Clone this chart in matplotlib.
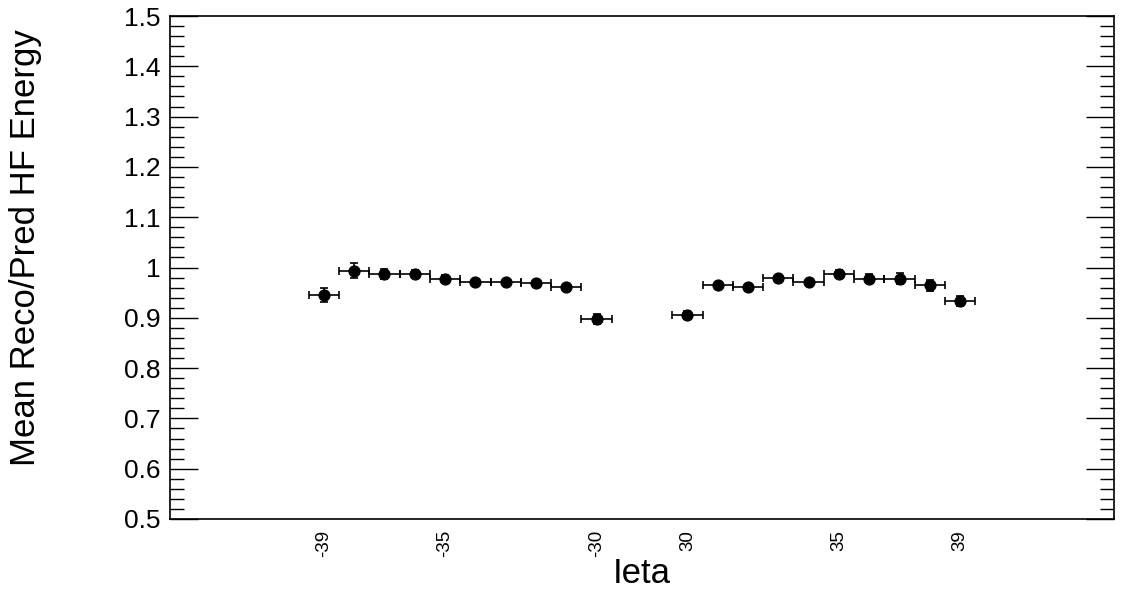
"""Mean reco/pred HF energy per ieta ring (ROOT-style profile plot)."""
import numpy as np
import matplotlib; matplotlib.use("Agg"); import matplotlib.pyplot as plt
from matplotlib.ticker import MultipleLocator

plt.rcParams['font.family'] = ['Liberation Sans', 'DejaVu Sans']

ieta = [-39, -38, -37, -36, -35, -34, -33, -32, -31, -30,
        30, 31, 32, 33, 34, 35, 36, 37, 38, 39]
ratio = [0.946, 0.994, 0.988, 0.987, 0.978, 0.972, 0.972, 0.970, 0.962, 0.897,
         0.906, 0.966, 0.962, 0.979, 0.972, 0.987, 0.978, 0.978, 0.965, 0.933]
err = [0.014, 0.014, 0.010, 0.008, 0.008, 0.004, 0.004, 0.004, 0.004, 0.010,
       0.008, 0.004, 0.004, 0.004, 0.004, 0.008, 0.009, 0.011, 0.011, 0.010]
shown_labels = [-39, -35, -30, 30, 35, 39]

# bin index: the two halves are separated by two empty bins
pos = np.array([i if e < 0 else i + 2 for i, e in enumerate(ieta)], dtype=float)

fig = plt.figure(figsize=(11.26, 5.92), dpi=100)
ax = fig.add_axes([170/1126, 1 - 519/592, 944/1126, 503/592])

ax.errorbar(pos, ratio, yerr=err, xerr=0.5, fmt="o", color="black", ms=7.8,
            elinewidth=1.2, capsize=3, capthick=1.2)

ax.set_xlim(-5.08, 26.08)
ax.set_ylim(0.5, 1.5)

ax.yaxis.set_minor_locator(MultipleLocator(0.02))
ax.set_yticks(np.arange(0.5, 1.51, 0.1))
ax.set_yticklabels(["0.5", "0.6", "0.7", "0.8", "0.9", "1", "1.1", "1.2", "1.3", "1.4", "1.5"])
ax.tick_params(axis="y", which="both", direction="in", left=True, right=True, labelsize=19, pad=7)
ax.tick_params(axis="y", which="major", length=20, width=1)
ax.tick_params(axis="y", which="minor", length=10, width=1)

ax.set_xticks([pos[ieta.index(v)] for v in shown_labels])
ax.set_xticklabels([str(v) for v in shown_labels], rotation=90)
ax.tick_params(axis="x", which="both", length=0, labelsize=13.5, pad=8)

for s in ax.spines.values():
    s.set_linewidth(1.2)

ax.set_xlabel("Ieta", fontsize=25, labelpad=0)
ax.set_ylabel("Mean Reco/Pred HF Energy", fontsize=25)
ax.yaxis.set_label_coords(-0.136, 0.54)

fig.savefig("out.png", dpi=100)
